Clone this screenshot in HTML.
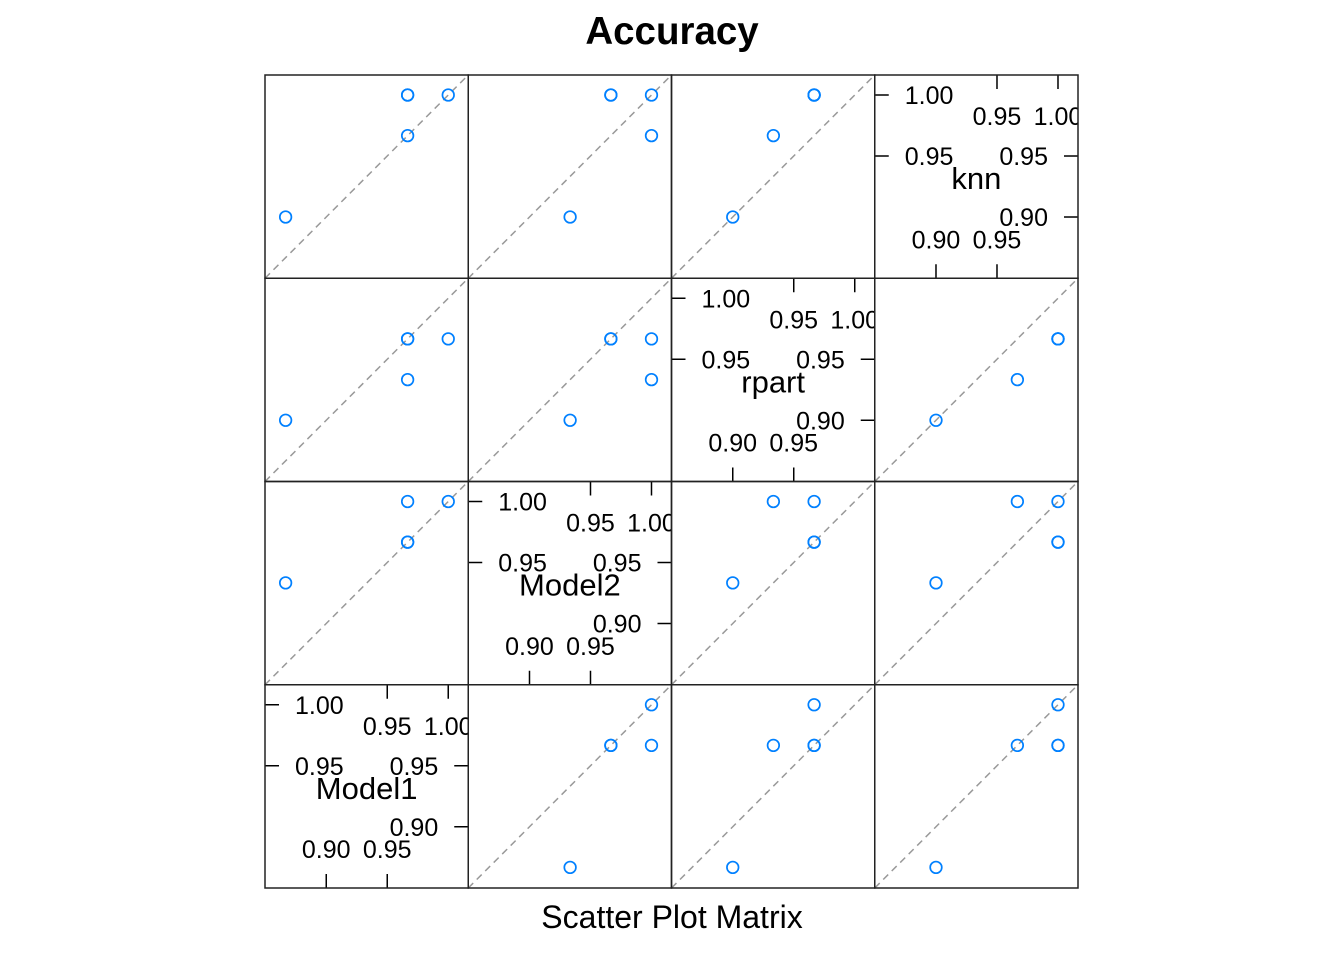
<!DOCTYPE html>
<html><head><meta charset="utf-8"><style>
body{margin:0;background:#fff;}
svg{display:block;font-family:"Liberation Sans",Arial,sans-serif;}
</style></head><body>
<svg id="chart" width="1344" height="960">
<text x="672" y="44" text-anchor="middle" font-size="38.5" font-weight="bold">Accuracy</text>
<text x="672" y="928" text-anchor="middle" font-size="32">Scatter Plot Matrix</text>
</svg>
<script>
const variables = ["Model1","Model2","rpart","knn"];
const model1 = [0.8667, 0.9667, 0.9667, 1.0, 0.9667];
const model2 = [0.9333, 1.0, 0.9667, 1.0, 0.9667];
const rpart  = [0.9, 0.9333, 0.9667, 0.9667, 0.9667];
const knn    = [0.9, 0.9667, 1.0, 1.0, 1.0];
const tickValues = [0.90, 0.95, 1.00];
const tickLabels = ["0.90","0.95","1.00"];

const series=[model1,model2,rpart,knn];
const NS="http://www.w3.org/2000/svg";
const svg=document.getElementById('chart');
const L=265,T=75,S=(1078-265)/4,vmin=0.8498,vmax=1.0164;
function sx(c,v){return L+c*S+(v-vmin)/(vmax-vmin)*S;}
function sy(r,v){return T+(r+1)*S-(v-vmin)/(vmax-vmin)*S;}
function mk(tag,attrs,parent){const e=document.createElementNS(NS,tag);for(const k in attrs)e.setAttribute(k,attrs[k]);(parent||svg).appendChild(e);return e;}
const defs=mk('defs',{});
for(let c=0;c<4;c++){
  for(let r=0;r<4;r++){
    const xv=c, yv=3-r;
    const px=L+c*S, py=T+r*S;
    const cp=mk('clipPath',{id:'cp'+c+'_'+r},defs);
    mk('rect',{x:px,y:py,width:S,height:S},cp);
    const g=mk('g',{'clip-path':'url(#cp'+c+'_'+r+')'});
    
    
    if(xv===yv){
      const nm=mk('text',{x:px+S/2,y:py+114,'text-anchor':'middle','font-size':31},g);
      nm.textContent=variables[xv];
      
      
      const fs=25;
      [1,2].forEach(i=>{const y=sy(r,tickValues[i]);
        mk('line',{x1:px,x2:px+14,y1:y,y2:y,stroke:'#000','stroke-width':1.5},g);
        const t=mk('text',{x:px+30,y:y+9,'font-size':fs},g);t.textContent=tickLabels[i];
        });
      [1,2].forEach(i=>{const x=sx(c,tickValues[i]);
        mk('line',{x1:x,x2:x,y1:py,y2:py+14,stroke:'#000','stroke-width':1.5},g);
        const t=mk('text',{x:x,y:py+50,'font-size':fs,'text-anchor':'middle'},g);t.textContent=tickLabels[i];
        });
      [0,1].forEach(i=>{const y=sy(r,tickValues[i]);
        mk('line',{x1:px+S-14,x2:px+S,y1:y,y2:y,stroke:'#000','stroke-width':1.5},g);
        const t=mk('text',{x:px+S-30,y:y+9,'font-size':fs,'text-anchor':'end'},g);t.textContent=tickLabels[i];
        });
      [0,1].forEach(i=>{const x=sx(c,tickValues[i]);
        mk('line',{x1:x,x2:x,y1:py+S-14,y2:py+S,stroke:'#000','stroke-width':1.5},g);
        const t=mk('text',{x:x,y:py+S-30,'font-size':fs,'text-anchor':'middle'},g);t.textContent=tickLabels[i];
        });
    } else {
      const ln=mk('line',{x1:px,y1:py+S,x2:px+S,y2:py,stroke:'#999','stroke-width':1.5,'stroke-dasharray':'7,5'},g);
      
      const xs=series[xv], ys=series[yv];
      for(let k=0;k<xs.length;k++){
        const p=mk('circle',{cx:sx(c,xs[k]),cy:sy(r,ys[k]),r:5.8,fill:'none',stroke:'#0080ff','stroke-width':1.7},g);
        
        
      }
    }
    const b=mk('rect',{x:px,y:py,width:S,height:S,fill:'none',stroke:'#222','stroke-width':1.5});
    
    
  }
}
</script>
</body></html>
